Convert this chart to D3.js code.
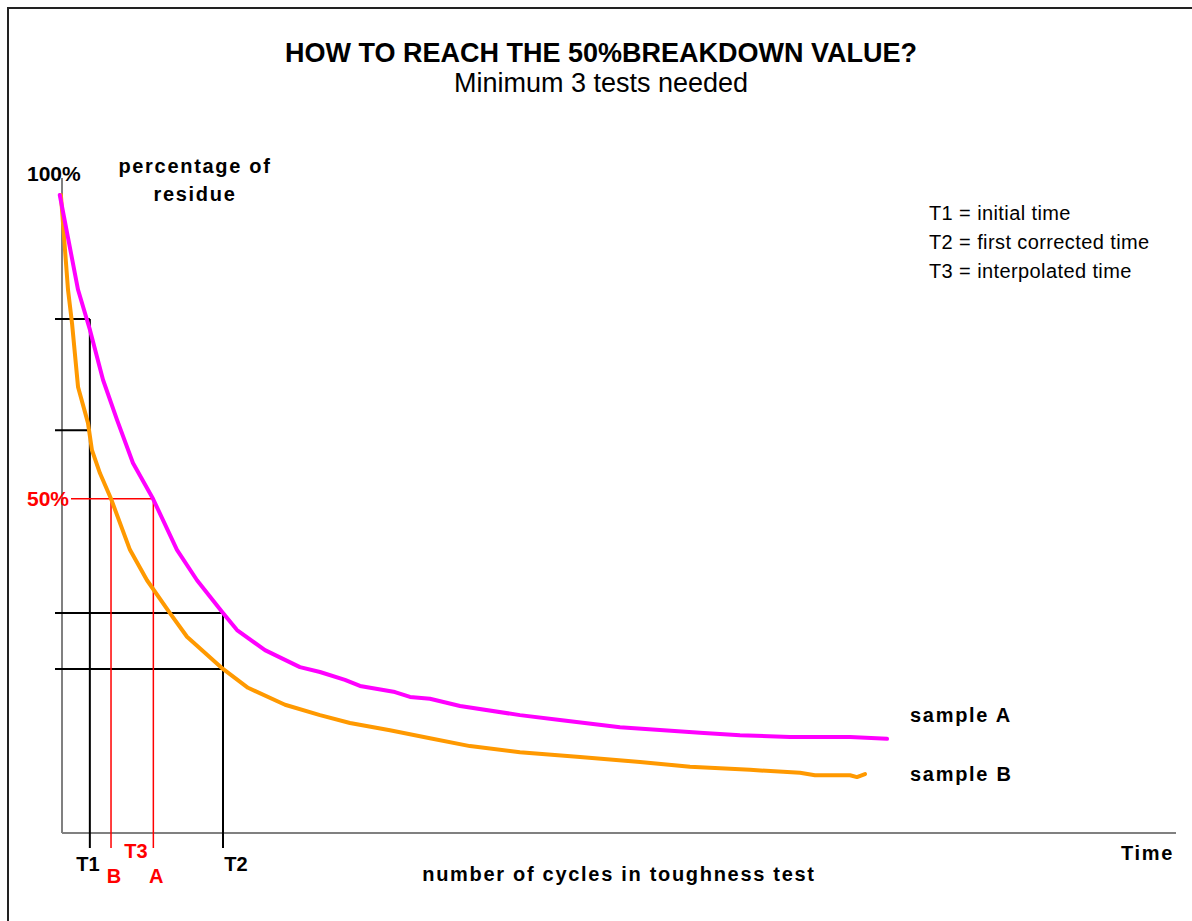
<!DOCTYPE html>
<html>
<head>
<meta charset="utf-8">
<script src="https://cdn.jsdelivr.net/npm/d3@7"></script>
<style>
  body { margin: 0; background: #fff; }
  svg text { font-family: "Liberation Sans", Arial, sans-serif; }
</style>
</head>
<body>
<svg id="chart"></svg>
<script>
// sample A (magenta) - time vs percentage of residue
var timeA    = [-0.2, 1.44, 2.51, 3.68, 4.94, 6.37, 8.17, 10.32, 12.12, 14.45, 15.71, 18.22, 21.36, 23.16, 25.40, 26.75, 29.89, 31.24, 33.03, 35.73, 41.11, 44.70, 50.09, 57.27, 60.86, 65.35, 70.74, 74.06];
var residueA = [100, 84.4, 77.8, 69.6, 63.0, 55.9, 50.0, 41.6, 36.6, 31.2, 28.4, 25.1, 22.3, 21.5, 20.2, 19.2, 18.2, 17.4, 17.1, 15.9, 14.4, 13.6, 12.4, 11.5, 11.1, 10.8, 10.8, 10.5];

// sample B (orange)
var timeB    = [-0.1, 0.54, 0.90, 1.44, 2.33, 2.69, 3.41, 4.40, 6.10, 7.63, 9.69, 11.22, 14.45, 16.70, 20.02, 23.16, 25.85, 29.44, 33.03, 36.62, 41.11, 46.50, 51.89, 56.37, 61.76, 66.25, 67.59, 70.74, 71.36, 72.08];
var residueB = [100, 84.4, 78.9, 68.4, 62.5, 58.0, 54.2, 50.0, 41.6, 36.6, 31.2, 27.3, 22.0, 18.9, 16.1, 14.4, 13.1, 11.9, 10.6, 9.3, 8.3, 7.5, 6.7, 5.9, 5.4, 4.9, 4.5, 4.5, 4.2, 4.7];

// test times
var markNames = ["T1", "T2"];
var markTimes = [2.5, 14.45];
var markLevels = [[79.6, 61.3], [31.2, 22.0]];   // residue of A and B at that time
var interpNames = ["B", "A"];
var interpTimes = [4.4, 8.2];
var targetLevel = 50;

var legendLines = ["T1 = initial time", "T2 = first corrected time", "T3 = interpolated time"];

var W = 1192, H = 921;
var margin = {top: 195, left: 62, right: 16, bottom: 88};

var x = d3.scaleLinear().domain([0, 100]).range([margin.left, W - margin.right]);
var y = d3.scaleLinear().domain([-5, 100]).range([H - margin.bottom, margin.top]);

var svg = d3.select("#chart").attr("width", W).attr("height", H);

// outer frame
svg.append("rect")
    .attr("x", 8).attr("y", 8)
    .attr("width", 1300).attr("height", 1100)
    .attr("fill", "none").attr("stroke", "#222").attr("stroke-width", 2);

// titles
svg.append("text")
    .attr("x", 601).attr("y", 62)
    .attr("text-anchor", "middle")
    .style("font-size", "27px").style("font-weight", "bold")
    .text("HOW TO REACH THE 50%BREAKDOWN VALUE?");
svg.append("text")
    .attr("x", 601).attr("y", 92)
    .attr("text-anchor", "middle")
    .style("font-size", "27px")
    .text("Minimum 3 tests needed");

// axes (plain gray lines)
var x0 = x(0), yBase = y(-5);
svg.append("line")
    .attr("x1", x0).attr("x2", x0)
    .attr("y1", 178).attr("y2", yBase)
    .attr("stroke", "#808080").attr("stroke-width", 2);
svg.append("line")
    .attr("x1", x0).attr("x2", x(100))
    .attr("y1", yBase).attr("y2", yBase)
    .attr("stroke", "#808080").attr("stroke-width", 2);

// black guide lines at T1 and T2
markTimes.forEach(function(t, i) {
  var top = d3.max(markLevels[i]);
  svg.append("line")
      .attr("x1", x(t)).attr("x2", x(t))
      .attr("y1", y(top)).attr("y2", yBase + 15)
      .attr("stroke", "#000").attr("stroke-width", 2);
  markLevels[i].forEach(function(lv) {
    svg.append("line")
        .attr("x1", x0 - 7).attr("x2", x(t))
        .attr("y1", y(lv)).attr("y2", y(lv))
        .attr("stroke", "#000").attr("stroke-width", 2);
  });
  svg.append("text")
      .attr("x", x(t) + (i == 0 ? -2 : 13)).attr("y", 871)
      .attr("text-anchor", "middle")
      .style("font-size", "20px").style("font-weight", "bold")
      .text(markNames[i]);
});

// red 50% lines
svg.append("line")
    .attr("x1", 71).attr("x2", x(d3.max(interpTimes)))
    .attr("y1", y(targetLevel)).attr("y2", y(targetLevel))
    .attr("stroke", "#ff0000").attr("stroke-width", 1.5);
interpTimes.forEach(function(t, i) {
  svg.append("line")
      .attr("x1", x(t)).attr("x2", x(t))
      .attr("y1", y(targetLevel)).attr("y2", yBase + 15)
      .attr("stroke", "#ff0000").attr("stroke-width", 1.5);
  svg.append("text")
      .attr("x", x(t) + 3).attr("y", 883)
      .attr("text-anchor", "middle")
      .attr("fill", "#ff0000")
      .style("font-size", "20px").style("font-weight", "bold")
      .text(interpNames[i]);
});
svg.append("text")
    .attr("x", 136).attr("y", 858)
    .attr("text-anchor", "middle")
    .attr("fill", "#ff0000")
    .style("font-size", "20px").style("font-weight", "bold")
    .text("T3");
svg.append("text")
    .attr("x", 27).attr("y", y(targetLevel) + 7)
    .attr("fill", "#ff0000")
    .style("font-size", "21px").style("font-weight", "bold")
    .text("50%");

// the curves
var line = d3.line()
    .x(function(d) { return x(d[0]); })
    .y(function(d) { return y(d[1]); });

svg.append("path")
    .datum(d3.zip(timeB, residueB))
    .attr("d", line)
    .attr("fill", "none").attr("stroke", "#ff9900")
    .attr("stroke-width", 4).attr("stroke-linejoin", "round").attr("stroke-linecap", "round");
svg.append("path")
    .datum(d3.zip(timeA, residueA))
    .attr("d", line)
    .attr("fill", "none").attr("stroke", "#ff00ff")
    .attr("stroke-width", 4).attr("stroke-linejoin", "round").attr("stroke-linecap", "round");

// labels
var bold = function(sel) {
  return sel.style("font-size", "20px").style("font-weight", "bold").style("letter-spacing", "1.7px");
};
bold(svg.append("text").attr("x", 910).attr("y", 722).text("sample A"));
bold(svg.append("text").attr("x", 910).attr("y", 781).text("sample B"));
bold(svg.append("text").attr("x", 1121).attr("y", 860).text("Time"));
bold(svg.append("text").attr("x", 619).attr("y", 881).attr("text-anchor", "middle").text("number of cycles in toughness test"));
bold(svg.append("text").attr("x", 195).attr("y", 173).attr("text-anchor", "middle").text("percentage of"));
bold(svg.append("text").attr("x", 195).attr("y", 201).attr("text-anchor", "middle").text("residue"));

svg.append("text")
    .attr("x", 27).attr("y", 181)
    .style("font-size", "21px").style("font-weight", "bold")
    .text("100%");

// legend
svg.selectAll(".leg")
    .data(legendLines)
  .enter().append("text")
    .attr("class", "leg")
    .attr("x", 929)
    .attr("y", function(d, i) { return 220 + i * 29; })
    .style("font-size", "20px").style("letter-spacing", "0.4px")
    .text(function(d) { return d; });
</script>
</body>
</html>
